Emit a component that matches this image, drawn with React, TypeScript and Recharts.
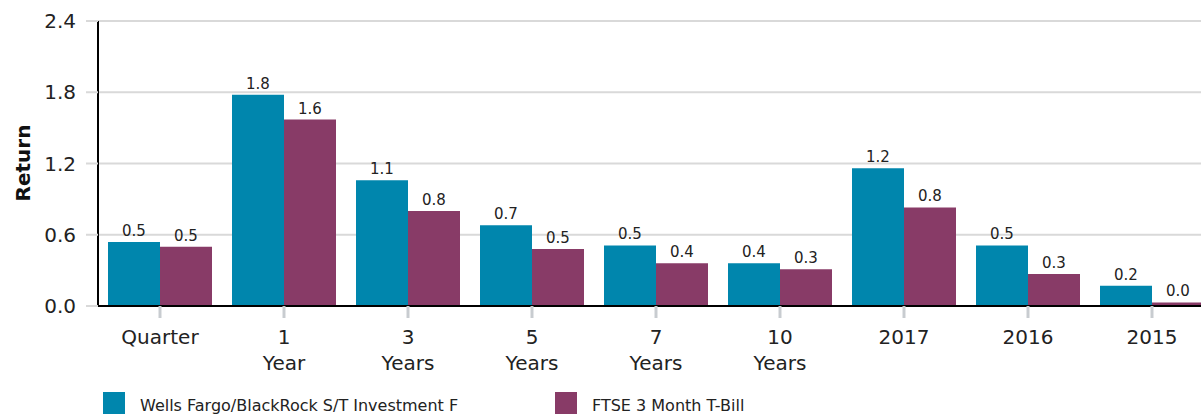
import React from 'react';
import { BarChart, Bar, XAxis, YAxis, CartesianGrid, LabelList, Legend } from 'recharts';

const categories = ['Quarter', '1 Year', '3 Years', '5 Years', '7 Years', '10 Years', '2017', '2016', '2015'];
const fundValues = [0.54, 1.78, 1.06, 0.68, 0.51, 0.36, 1.16, 0.51, 0.17];
const benchValues = [0.5, 1.57, 0.8, 0.48, 0.36, 0.31, 0.83, 0.27, 0.03];
const seriesNames = ['Wells Fargo/BlackRock S/T Investment F', 'FTSE 3 Month T-Bill'];
const seriesColors = ['#0086AD', '#883B67'];
const yTicks = [0, 0.6, 1.2, 1.8, 2.4];

const data = categories.map((c, i) => ({ name: c, fund: fundValues[i], bench: benchValues[i] }));

const FONT = '"DejaVu Sans", Verdana, sans-serif';

const XTick = (props: any) => {
  const { x, y, payload } = props;
  const parts = String(payload.value).split(' ');
  return (
    <text x={x} y={y} textAnchor="middle" fill="#222" fontSize={20} fontFamily={FONT}>
      {parts.map((p: string, i: number) => (
        <tspan key={i} x={x} dy={i === 0 ? '0.71em' : 26}>{p}</tspan>
      ))}
    </text>
  );
};

const LegendContent = (props: any) => {
  const payload = [...(props.payload || [])].sort(
    (a: any, b: any) => seriesNames.indexOf(a.value) - seriesNames.indexOf(b.value)
  );
  const xs = [103, 555];
  return (
    <div style={{ position: 'relative', width: 1200, height: 23, fontFamily: FONT }}>
      {payload.map((p: any, i: number) => (
        <div key={i}>
          <div style={{ position: 'absolute', left: xs[i], top: 0, width: 22, height: 22, background: p.color }} />
          <div style={{ position: 'absolute', left: xs[i] + 37, top: 5, fontSize: 16, color: '#222', whiteSpace: 'nowrap', lineHeight: '17px' }}>{p.value}</div>
        </div>
      ))}
    </div>
  );
};

export default function App() {
  return (
    <div style={{ position: 'absolute', left: 0, top: 0, width: 1201, height: 415, overflow: 'hidden', background: '#fff' }}>
      <BarChart
        width={1230}
        height={430}
        data={data}
        margin={{ top: 21, right: 16, bottom: 44, left: 0 }}
        barCategoryGap={10}
        barGap={0}
      >
        <CartesianGrid vertical={false} stroke="#d9d9d9" strokeWidth={2} />
        <XAxis
          dataKey="name"
          height={80}
          axisLine={{ stroke: '#000', strokeWidth: 2 }}
          tickLine={{ stroke: '#c8ccd0', strokeWidth: 3 }}
          tickSize={12}
          tickMargin={12}
          tick={<XTick />}
          interval={0}
        />
        <YAxis
          width={98}
          domain={[0, 2.4]}
          ticks={yTicks}
          tickFormatter={(v: number) => v.toFixed(1)}
          axisLine={{ stroke: '#000', strokeWidth: 2 }}
          tickLine={{ stroke: '#d9d9d9', strokeWidth: 2 }}
          tickSize={12}
          tickMargin={10}
          tick={{ fill: '#222', fontSize: 20, fontFamily: FONT }}
          label={{
            content: () => (
              <text x={23} y={163} transform="rotate(-90 23 163)" textAnchor="middle" dominantBaseline="central" fontSize={20} fontWeight="bold" fill="#111" fontFamily={FONT}>Return</text>
            ),
          }}
        />
        <Legend
          layout="vertical"
          align="center"
          verticalAlign="middle"
          wrapperStyle={{ left: 0, top: 392, width: 1200, height: 23 }}
          content={<LegendContent />}
        />
        <Bar dataKey="fund" name={seriesNames[0]} fill={seriesColors[0]} isAnimationActive={false}>
          <LabelList dataKey="fund" position="top" offset={6} formatter={(v: any) => Number(v).toFixed(1)} style={{ fill: '#222', fontSize: 15, fontFamily: FONT }} />
        </Bar>
        <Bar dataKey="bench" name={seriesNames[1]} fill={seriesColors[1]} isAnimationActive={false}>
          <LabelList dataKey="bench" position="top" offset={6} formatter={(v: any) => Number(v).toFixed(1)} style={{ fill: '#222', fontSize: 15, fontFamily: FONT }} />
        </Bar>
      </BarChart>
    </div>
  );
}
